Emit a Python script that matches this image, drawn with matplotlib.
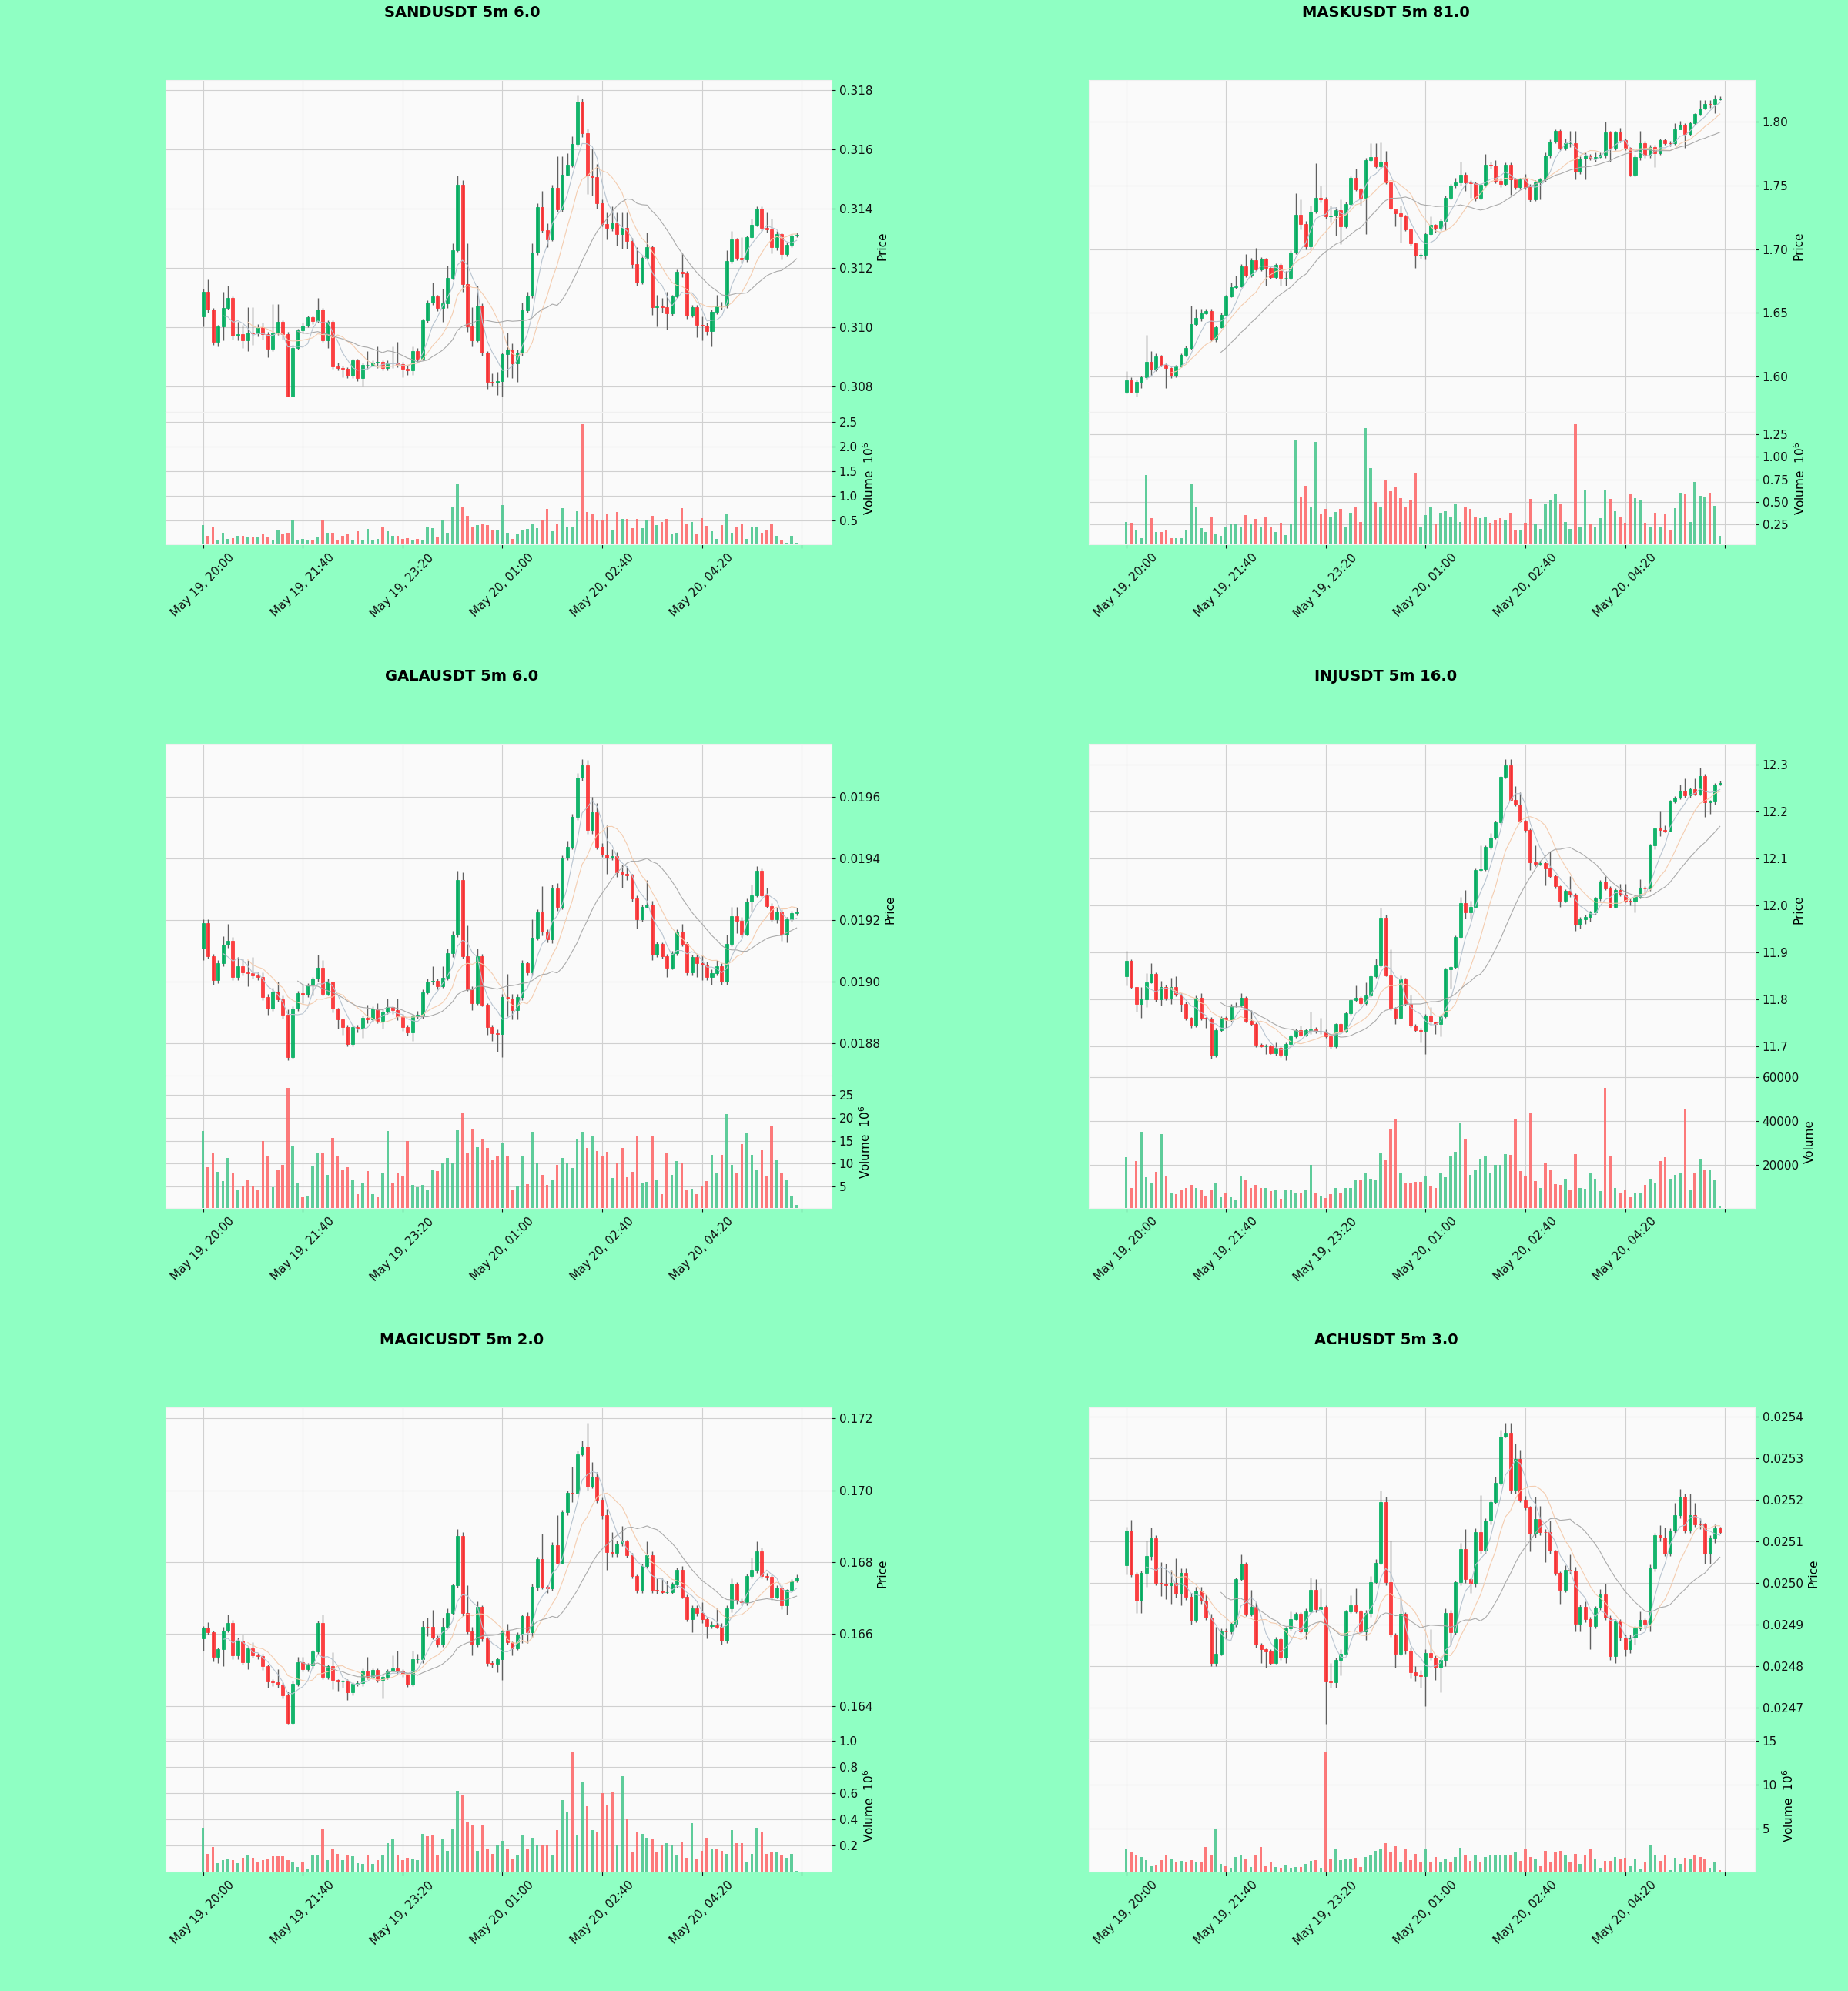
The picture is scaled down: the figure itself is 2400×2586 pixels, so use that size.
import numpy as np
import pandas as pd
import matplotlib
matplotlib.use("Agg")
import matplotlib.pyplot as plt
from matplotlib.ticker import MaxNLocator

# ---------------- data (5m candles, May 19 20:00 -> May 20 05:55) ----------------
sand_open = [
    0.31038, 0.31120, 0.31059, 0.30951, 0.31002, 0.31064, 0.31098, 0.30971, 0.30978, 0.30956,
    0.30982, 0.30980, 0.31000, 0.30977, 0.30927, 0.30982, 0.31018, 0.30977, 0.30766, 0.30930,
    0.30989, 0.31005, 0.31033, 0.31022, 0.31059, 0.30956, 0.31018, 0.30869, 0.30864, 0.30860,
    0.30838, 0.30889, 0.30828, 0.30874, 0.30874, 0.30880, 0.30884, 0.30864, 0.30880, 0.30880,
    0.30875, 0.30860, 0.30855, 0.30920, 0.30894, 0.31023, 0.31084, 0.31105, 0.31064, 0.31081,
    0.31166, 0.31259, 0.31479, 0.31146, 0.31002, 0.30956, 0.31074, 0.30915, 0.30817, 0.30815,
    0.30818, 0.30910, 0.30925, 0.30879, 0.30915, 0.31057, 0.31107, 0.31251, 0.31404, 0.31328,
    0.31295, 0.31469, 0.31397, 0.31515, 0.31548, 0.31618, 0.31761, 0.31654, 0.31510, 0.31505,
    0.31418, 0.31348, 0.31336, 0.31351, 0.31315, 0.31335, 0.31290, 0.31212, 0.31151, 0.31233,
    0.31269, 0.31069, 0.31070, 0.31068, 0.31048, 0.31105, 0.31187, 0.31182, 0.31040, 0.31069,
    0.31007, 0.31005, 0.30987, 0.31053, 0.31074, 0.31072, 0.31223, 0.31295, 0.31233, 0.31228,
    0.31305, 0.31346, 0.31399, 0.31336, 0.31330, 0.31269, 0.31315, 0.31248, 0.31279, 0.31310,
]
sand_high = [
    0.31130, 0.31161, 0.31065, 0.31008, 0.31120, 0.31141, 0.31105, 0.31018, 0.31008, 0.31069,
    0.31069, 0.31010, 0.31015, 0.30985, 0.31079, 0.31079, 0.31025, 0.30985, 0.30940, 0.30995,
    0.31015, 0.31040, 0.31040, 0.31100, 0.31065, 0.31025, 0.31025, 0.30880, 0.30870, 0.30865,
    0.30895, 0.30895, 0.30880, 0.30920, 0.30890, 0.30935, 0.30890, 0.30890, 0.30935, 0.30950,
    0.30885, 0.30870, 0.30935, 0.30930, 0.31030, 0.31090, 0.31151, 0.31110, 0.31130, 0.31207,
    0.31284, 0.31510, 0.31495, 0.31284, 0.31069, 0.31141, 0.31080, 0.30920, 0.30845, 0.30850,
    0.30915, 0.30982, 0.30946, 0.30925, 0.31084, 0.31120, 0.31284, 0.31418, 0.31459, 0.31351,
    0.31479, 0.31577, 0.31577, 0.31587, 0.31643, 0.31782, 0.31770, 0.31669, 0.31602, 0.31551,
    0.31430, 0.31387, 0.31407, 0.31387, 0.31387, 0.31387, 0.31300, 0.31270, 0.31240, 0.31320,
    0.31275, 0.31110, 0.31100, 0.31120, 0.31110, 0.31195, 0.31249, 0.31190, 0.31075, 0.31075,
    0.31038, 0.31015, 0.31060, 0.31110, 0.31085, 0.31259, 0.31325, 0.31300, 0.31305, 0.31310,
    0.31366, 0.31407, 0.31407, 0.31387, 0.31366, 0.31325, 0.31320, 0.31285, 0.31315, 0.31320,
]
sand_low = [
    0.31002, 0.31050, 0.30940, 0.30935, 0.30956, 0.31060, 0.30960, 0.30956, 0.30930, 0.30920,
    0.30940, 0.30970, 0.30960, 0.30900, 0.30920, 0.30975, 0.30960, 0.30766, 0.30766, 0.30925,
    0.30980, 0.31000, 0.31010, 0.31015, 0.30950, 0.30930, 0.30860, 0.30855, 0.30833, 0.30830,
    0.30830, 0.30820, 0.30802, 0.30860, 0.30870, 0.30864, 0.30855, 0.30855, 0.30864, 0.30865,
    0.30833, 0.30840, 0.30840, 0.30885, 0.30890, 0.31015, 0.31075, 0.31055, 0.31018, 0.31065,
    0.31160, 0.31255, 0.31120, 0.30985, 0.30935, 0.30950, 0.30905, 0.30792, 0.30802, 0.30771,
    0.30766, 0.30833, 0.30828, 0.30817, 0.30905, 0.31050, 0.31100, 0.31245, 0.31320, 0.31269,
    0.31290, 0.31390, 0.31390, 0.31510, 0.31540, 0.31610, 0.31640, 0.31448, 0.31443, 0.31400,
    0.31340, 0.31295, 0.31325, 0.31274, 0.31264, 0.31264, 0.31200, 0.31140, 0.31145, 0.31230,
    0.31043, 0.31002, 0.31050, 0.30992, 0.31040, 0.31100, 0.31170, 0.31030, 0.31035, 0.30966,
    0.30956, 0.30975, 0.30935, 0.31045, 0.31060, 0.31065, 0.31215, 0.31225, 0.31215, 0.31220,
    0.31300, 0.31340, 0.31325, 0.31320, 0.31249, 0.31260, 0.31228, 0.31240, 0.31270, 0.31305,
]
sand_close = [
    0.31120, 0.31059, 0.30951, 0.31002, 0.31064, 0.31098, 0.30971, 0.30978, 0.30956, 0.30982,
    0.30980, 0.31000, 0.30977, 0.30927, 0.30982, 0.31018, 0.30977, 0.30766, 0.30930, 0.30989,
    0.31005, 0.31033, 0.31022, 0.31059, 0.30956, 0.31018, 0.30869, 0.30864, 0.30860, 0.30838,
    0.30889, 0.30828, 0.30874, 0.30874, 0.30880, 0.30884, 0.30864, 0.30880, 0.30880, 0.30875,
    0.30860, 0.30855, 0.30920, 0.30894, 0.31023, 0.31084, 0.31105, 0.31064, 0.31081, 0.31166,
    0.31259, 0.31479, 0.31146, 0.31002, 0.30956, 0.31074, 0.30915, 0.30817, 0.30815, 0.30818,
    0.30910, 0.30925, 0.30879, 0.30915, 0.31057, 0.31107, 0.31251, 0.31404, 0.31328, 0.31295,
    0.31469, 0.31397, 0.31515, 0.31548, 0.31618, 0.31761, 0.31654, 0.31510, 0.31505, 0.31418,
    0.31348, 0.31336, 0.31351, 0.31315, 0.31335, 0.31290, 0.31212, 0.31151, 0.31233, 0.31269,
    0.31069, 0.31070, 0.31068, 0.31048, 0.31105, 0.31187, 0.31182, 0.31040, 0.31069, 0.31007,
    0.31005, 0.30987, 0.31053, 0.31074, 0.31072, 0.31223, 0.31295, 0.31233, 0.31228, 0.31305,
    0.31346, 0.31399, 0.31336, 0.31330, 0.31269, 0.31315, 0.31248, 0.31279, 0.31310, 0.31312,
]
sand_vol = [  # millions
    0.40, 0.19, 0.37, 0.09, 0.25, 0.12, 0.14, 0.19, 0.19, 0.17,
    0.16, 0.17, 0.22, 0.17, 0.09, 0.31, 0.22, 0.25, 0.50, 0.09,
    0.12, 0.09, 0.09, 0.16, 0.50, 0.24, 0.25, 0.09, 0.19, 0.23,
    0.09, 0.28, 0.09, 0.33, 0.09, 0.12, 0.35, 0.28, 0.19, 0.19,
    0.12, 0.14, 0.09, 0.12, 0.09, 0.37, 0.34, 0.16, 0.50, 0.25,
    0.78, 1.24, 0.78, 0.59, 0.37, 0.40, 0.43, 0.40, 0.29, 0.29,
    0.81, 0.25, 0.12, 0.22, 0.31, 0.33, 0.43, 0.34, 0.51, 0.73,
    0.28, 0.42, 0.75, 0.37, 0.37, 0.68, 2.45, 0.66, 0.62, 0.50,
    0.50, 0.62, 0.31, 0.66, 0.53, 0.53, 0.34, 0.53, 0.34, 0.50,
    0.59, 0.40, 0.47, 0.53, 0.23, 0.25, 0.75, 0.42, 0.47, 0.22,
    0.54, 0.39, 0.28, 0.12, 0.40, 0.62, 0.25, 0.35, 0.42, 0.12,
    0.35, 0.35, 0.25, 0.31, 0.43, 0.19, 0.11, 0.04, 0.19, 0.05,
]

mask_open = [
    1.5876, 1.5971, 1.5876, 1.5959, 1.5995, 1.6115, 1.6055, 1.6155, 1.6090, 1.6067,
    1.6007, 1.6079, 1.6167, 1.6222, 1.6413, 1.6461, 1.6496, 1.6513, 1.6294, 1.6389,
    1.6484, 1.6628, 1.6699, 1.6705, 1.6866, 1.6795, 1.6914, 1.6838, 1.6926, 1.6854,
    1.6783, 1.6878, 1.6771, 1.6775, 1.6974, 1.7272, 1.7200, 1.7021, 1.7296, 1.7403,
    1.7390, 1.7260, 1.7265, 1.7308, 1.7181, 1.7356, 1.7558, 1.7468, 1.7403, 1.7702,
    1.7721, 1.7654, 1.7690, 1.7523, 1.7320, 1.7284, 1.7260, 1.7153, 1.7045, 1.6950,
    1.6955, 1.7117, 1.7189, 1.7165, 1.7220, 1.7403, 1.7499, 1.7523, 1.7587, 1.7523,
    1.7520, 1.7403, 1.7506, 1.7666, 1.7660, 1.7535, 1.7511, 1.7666, 1.7547, 1.7487,
    1.7547, 1.7487, 1.7391, 1.7523, 1.7547, 1.7737, 1.7845, 1.7928, 1.7797, 1.7833,
    1.7833, 1.7606, 1.7714, 1.7737, 1.7720, 1.7722, 1.7740, 1.7916, 1.7797, 1.7916,
    1.7857, 1.7797, 1.7582, 1.7726, 1.7833, 1.7737, 1.7802, 1.7754, 1.7857, 1.7833,
    1.7830, 1.7940, 1.7976, 1.7905, 1.7988, 1.8060, 1.8107, 1.8143, 1.8140, 1.8179,
]
mask_high = [
    1.6043, 1.5995, 1.5975, 1.6005, 1.6329, 1.6198, 1.6180, 1.6170, 1.6100, 1.6075,
    1.6090, 1.6180, 1.6240, 1.6556, 1.6532, 1.6530, 1.6530, 1.6530, 1.6400, 1.6500,
    1.6640, 1.6735, 1.6795, 1.6880, 1.6962, 1.6930, 1.7009, 1.6940, 1.6930, 1.6860,
    1.6890, 1.6890, 1.6830, 1.6990, 1.7439, 1.7391, 1.7220, 1.7344, 1.7678, 1.7499,
    1.7410, 1.7344, 1.7330, 1.7391, 1.7370, 1.7570, 1.7630, 1.7480, 1.7720, 1.7833,
    1.7833, 1.7840, 1.7770, 1.7530, 1.7300, 1.7344, 1.7270, 1.7160, 1.7050, 1.6970,
    1.7130, 1.7260, 1.7200, 1.7240, 1.7420, 1.7510, 1.7560, 1.7690, 1.7600, 1.7540,
    1.7530, 1.7520, 1.7750, 1.7690, 1.7700, 1.7560, 1.7680, 1.7680, 1.7560, 1.7560,
    1.7590, 1.7510, 1.7540, 1.7560, 1.7760, 1.7860, 1.7940, 1.7940, 1.7870, 1.7930,
    1.7928, 1.7730, 1.7760, 1.7745, 1.7760, 1.7760, 1.8000, 1.7930, 1.7930, 1.7952,
    1.7870, 1.7800, 1.7740, 1.7928, 1.7850, 1.7820, 1.7820, 1.7870, 1.7870, 1.7850,
    1.7988, 1.8010, 1.7990, 1.8000, 1.8070, 1.8174, 1.8174, 1.8174, 1.8210, 1.8200,
]
mask_low = [
    1.5864, 1.5870, 1.5840, 1.5912, 1.5975, 1.6007, 1.6040, 1.6080, 1.5912, 1.5990,
    1.5995, 1.6070, 1.6160, 1.6210, 1.6400, 1.6437, 1.6490, 1.6280, 1.6270, 1.6380,
    1.6480, 1.6620, 1.6690, 1.6700, 1.6780, 1.6780, 1.6830, 1.6830, 1.6711, 1.6770,
    1.6770, 1.6711, 1.6711, 1.6760, 1.6960, 1.7153, 1.7000, 1.7000, 1.7280, 1.7368,
    1.7240, 1.7217, 1.7105, 1.7041, 1.7170, 1.7340, 1.7460, 1.7344, 1.7117, 1.7690,
    1.7640, 1.7640, 1.7510, 1.7310, 1.7177, 1.7053, 1.7140, 1.7030, 1.6854, 1.6926,
    1.6920, 1.7110, 1.7130, 1.7150, 1.7150, 1.7390, 1.7480, 1.7500, 1.7460, 1.7403,
    1.7380, 1.7390, 1.7490, 1.7630, 1.7520, 1.7490, 1.7500, 1.7430, 1.7470, 1.7470,
    1.7470, 1.7370, 1.7380, 1.7390, 1.7530, 1.7720, 1.7830, 1.7780, 1.7780, 1.7800,
    1.7547, 1.7590, 1.7547, 1.7700, 1.7690, 1.7720, 1.7720, 1.7690, 1.7780, 1.7840,
    1.7780, 1.7570, 1.7570, 1.7700, 1.7720, 1.7720, 1.7642, 1.7740, 1.7820, 1.7810,
    1.7820, 1.7960, 1.7797, 1.7890, 1.7980, 1.8050, 1.8100, 1.8110, 1.8070, 1.8170,
]
mask_close = [
    1.5971, 1.5876, 1.5959, 1.5995, 1.6115, 1.6055, 1.6155, 1.6090, 1.6067, 1.6007,
    1.6079, 1.6167, 1.6222, 1.6413, 1.6461, 1.6496, 1.6513, 1.6294, 1.6389, 1.6484,
    1.6628, 1.6699, 1.6705, 1.6866, 1.6795, 1.6914, 1.6838, 1.6926, 1.6854, 1.6783,
    1.6878, 1.6771, 1.6775, 1.6974, 1.7272, 1.7200, 1.7021, 1.7296, 1.7403, 1.7390,
    1.7260, 1.7265, 1.7308, 1.7181, 1.7356, 1.7558, 1.7468, 1.7403, 1.7702, 1.7721,
    1.7654, 1.7690, 1.7523, 1.7320, 1.7284, 1.7260, 1.7153, 1.7045, 1.6950, 1.6955,
    1.7117, 1.7189, 1.7165, 1.7220, 1.7403, 1.7499, 1.7523, 1.7587, 1.7523, 1.7520,
    1.7403, 1.7506, 1.7666, 1.7660, 1.7535, 1.7511, 1.7666, 1.7547, 1.7487, 1.7547,
    1.7487, 1.7391, 1.7523, 1.7547, 1.7737, 1.7845, 1.7928, 1.7797, 1.7833, 1.7833,
    1.7606, 1.7714, 1.7737, 1.7720, 1.7722, 1.7740, 1.7916, 1.7797, 1.7916, 1.7857,
    1.7797, 1.7582, 1.7726, 1.7833, 1.7737, 1.7802, 1.7754, 1.7857, 1.7833, 1.7830,
    1.7940, 1.7976, 1.7905, 1.7988, 1.8060, 1.8107, 1.8143, 1.8140, 1.8179, 1.8182,
]
mask_vol = [  # millions
    0.28, 0.27, 0.18, 0.10, 0.80, 0.32, 0.17, 0.17, 0.19, 0.10,
    0.10, 0.10, 0.18, 0.70, 0.45, 0.21, 0.17, 0.33, 0.15, 0.12,
    0.22, 0.26, 0.26, 0.22, 0.35, 0.26, 0.31, 0.22, 0.33, 0.23,
    0.17, 0.27, 0.13, 0.26, 1.18, 0.55, 0.68, 0.45, 1.16, 0.36,
    0.42, 0.33, 0.39, 0.42, 0.23, 0.38, 0.44, 0.28, 1.32, 0.87,
    0.50, 0.45, 0.74, 0.62, 0.66, 0.54, 0.45, 0.52, 0.82, 0.22,
    0.35, 0.45, 0.26, 0.38, 0.40, 0.33, 0.47, 0.28, 0.44, 0.42,
    0.34, 0.32, 0.34, 0.27, 0.29, 0.32, 0.29, 0.38, 0.18, 0.19,
    0.27, 0.53, 0.26, 0.20, 0.47, 0.52, 0.58, 0.47, 0.28, 0.20,
    1.36, 0.22, 0.63, 0.26, 0.22, 0.32, 0.63, 0.53, 0.40, 0.33,
    0.27, 0.58, 0.54, 0.52, 0.27, 0.23, 0.38, 0.22, 0.37, 0.18,
    0.43, 0.60, 0.58, 0.28, 0.72, 0.57, 0.56, 0.60, 0.46, 0.12,
]

gala_open = [
    0.019108, 0.019189, 0.019083, 0.019004, 0.019061, 0.019120, 0.019133, 0.019014, 0.019049, 0.019029,
    0.019027, 0.019019, 0.019014, 0.018950, 0.018911, 0.018968, 0.018942, 0.018891, 0.018753, 0.018911,
    0.018962, 0.018958, 0.018990, 0.019009, 0.019044, 0.018960, 0.018999, 0.018911, 0.018876, 0.018851,
    0.018797, 0.018851, 0.018847, 0.018881, 0.018876, 0.018913, 0.018871, 0.018903, 0.018916, 0.018906,
    0.018886, 0.018851, 0.018834, 0.018886, 0.018891, 0.018965, 0.018999, 0.019001, 0.018985, 0.019011,
    0.019093, 0.019153, 0.019330, 0.019083, 0.018975, 0.018930, 0.019083, 0.018925, 0.018851, 0.018832,
    0.018828, 0.018950, 0.018945, 0.018906, 0.018950, 0.019059, 0.019029, 0.019143, 0.019224, 0.019162,
    0.019138, 0.019304, 0.019242, 0.019404, 0.019439, 0.019535, 0.019663, 0.019703, 0.019493, 0.019551,
    0.019439, 0.019414, 0.019404, 0.019409, 0.019355, 0.019350, 0.019345, 0.019271, 0.019202, 0.019242,
    0.019251, 0.019088, 0.019123, 0.019083, 0.019044, 0.019093, 0.019162, 0.019123, 0.019029, 0.019079,
    0.019059, 0.019055, 0.019014, 0.019027, 0.019051, 0.018999, 0.019123, 0.019212, 0.019197, 0.019153,
    0.019261, 0.019281, 0.019360, 0.019281, 0.019246, 0.019202, 0.019227, 0.019153, 0.019202, 0.019222,
]
gala_high = [
    0.019202, 0.019202, 0.019090, 0.019070, 0.019148, 0.019187, 0.019145, 0.019079, 0.019075, 0.019069,
    0.019079, 0.019030, 0.019030, 0.018960, 0.018980, 0.018999, 0.018955, 0.018910, 0.018920, 0.018970,
    0.018990, 0.018995, 0.019015, 0.019088, 0.019069, 0.019010, 0.019000, 0.018915, 0.018880, 0.018860,
    0.018860, 0.018860, 0.018890, 0.018925, 0.018920, 0.018930, 0.018910, 0.018945, 0.018920, 0.018945,
    0.018895, 0.018860, 0.018895, 0.018905, 0.018975, 0.019010, 0.019049, 0.019010, 0.019049, 0.019108,
    0.019165, 0.019360, 0.019355, 0.019182, 0.018985, 0.019108, 0.019090, 0.018930, 0.018860, 0.018845,
    0.018960, 0.019024, 0.018960, 0.018960, 0.019070, 0.019065, 0.019202, 0.019235, 0.019311, 0.019170,
    0.019315, 0.019320, 0.019410, 0.019459, 0.019545, 0.019680, 0.019725, 0.019722, 0.019602, 0.019582,
    0.019450, 0.019508, 0.019430, 0.019420, 0.019380, 0.019375, 0.019350, 0.019280, 0.019250, 0.019330,
    0.019262, 0.019130, 0.019128, 0.019090, 0.019100, 0.019170, 0.019187, 0.019130, 0.019088, 0.019088,
    0.019088, 0.019065, 0.019040, 0.019071, 0.019060, 0.019153, 0.019242, 0.019242, 0.019210, 0.019270,
    0.019316, 0.019375, 0.019368, 0.019306, 0.019255, 0.019240, 0.019235, 0.019210, 0.019230, 0.019240,
]
gala_low = [
    0.019069, 0.019075, 0.018990, 0.018995, 0.019050, 0.019110, 0.019005, 0.019004, 0.019020, 0.018985,
    0.019010, 0.019005, 0.018940, 0.018891, 0.018905, 0.018935, 0.018880, 0.018743, 0.018750, 0.018905,
    0.018930, 0.018950, 0.018955, 0.019000, 0.018955, 0.018955, 0.018900, 0.018846, 0.018827, 0.018790,
    0.018790, 0.018835, 0.018817, 0.018865, 0.018870, 0.018865, 0.018846, 0.018895, 0.018895, 0.018875,
    0.018840, 0.018825, 0.018807, 0.018880, 0.018880, 0.018960, 0.018990, 0.018975, 0.018980, 0.019005,
    0.019080, 0.019145, 0.019075, 0.018970, 0.018906, 0.018925, 0.018920, 0.018827, 0.018807, 0.018772,
    0.018753, 0.018886, 0.018876, 0.018876, 0.018940, 0.019020, 0.019020, 0.019135, 0.019150, 0.019128,
    0.019125, 0.019230, 0.019235, 0.019395, 0.019430, 0.019525, 0.019655, 0.019480, 0.019480, 0.019430,
    0.019405, 0.019350, 0.019395, 0.019340, 0.019306, 0.019330, 0.019260, 0.019172, 0.019195, 0.019240,
    0.019069, 0.019080, 0.019075, 0.019014, 0.019040, 0.019085, 0.019115, 0.019020, 0.019020, 0.019014,
    0.019004, 0.019004, 0.018990, 0.019020, 0.018990, 0.018990, 0.019115, 0.019158, 0.019145, 0.019150,
    0.019227, 0.019275, 0.019275, 0.019240, 0.019195, 0.019190, 0.019133, 0.019128, 0.019195, 0.019215,
]
gala_close = [
    0.019189, 0.019083, 0.019004, 0.019061, 0.019120, 0.019133, 0.019014, 0.019049, 0.019029, 0.019027,
    0.019019, 0.019014, 0.018950, 0.018911, 0.018968, 0.018942, 0.018891, 0.018753, 0.018911, 0.018962,
    0.018958, 0.018990, 0.019009, 0.019044, 0.018960, 0.018999, 0.018911, 0.018876, 0.018851, 0.018797,
    0.018851, 0.018847, 0.018881, 0.018876, 0.018913, 0.018871, 0.018903, 0.018916, 0.018906, 0.018886,
    0.018851, 0.018834, 0.018886, 0.018891, 0.018965, 0.018999, 0.019001, 0.018985, 0.019011, 0.019093,
    0.019153, 0.019330, 0.019083, 0.018975, 0.018930, 0.019083, 0.018925, 0.018851, 0.018832, 0.018828,
    0.018950, 0.018945, 0.018906, 0.018950, 0.019059, 0.019029, 0.019143, 0.019224, 0.019162, 0.019138,
    0.019304, 0.019242, 0.019404, 0.019439, 0.019535, 0.019663, 0.019703, 0.019493, 0.019551, 0.019439,
    0.019414, 0.019404, 0.019409, 0.019355, 0.019350, 0.019345, 0.019271, 0.019202, 0.019242, 0.019251,
    0.019088, 0.019123, 0.019083, 0.019044, 0.019093, 0.019162, 0.019123, 0.019029, 0.019079, 0.019059,
    0.019055, 0.019014, 0.019027, 0.019051, 0.018999, 0.019123, 0.019212, 0.019197, 0.019153, 0.019261,
    0.019281, 0.019360, 0.019281, 0.019246, 0.019202, 0.019227, 0.019153, 0.019202, 0.019222, 0.019227,
]
gala_vol = [  # millions
    17.1, 9.2, 12.2, 8.2, 6.2, 11.2, 7.8, 4.3, 5.2, 6.6,
    5.2, 4.1, 15.0, 11.5, 4.8, 8.6, 9.8, 26.6, 14.0, 5.7,
    2.6, 3.0, 9.5, 12.4, 12.4, 7.5, 15.7, 11.8, 8.6, 9.2,
    6.6, 3.3, 5.8, 8.4, 3.3, 2.6, 8.0, 17.2, 5.7, 7.8,
    7.3, 15.0, 5.3, 4.8, 5.3, 4.3, 8.6, 8.4, 10.2, 11.3,
    10.0, 17.3, 21.1, 12.2, 17.5, 13.6, 15.5, 13.5, 10.8, 11.8,
    14.6, 11.5, 4.1, 5.2, 11.8, 5.5, 16.9, 10.2, 7.5, 5.3,
    6.4, 9.8, 11.2, 10.0, 9.0, 15.5, 16.9, 13.5, 16.0, 12.8,
    11.7, 12.6, 6.8, 10.2, 13.5, 7.0, 8.2, 16.2, 5.8, 6.0,
    16.0, 6.5, 3.3, 12.5, 7.5, 10.6, 10.2, 4.1, 4.5, 3.3,
    5.2, 6.2, 12.0, 8.0, 12.0, 20.9, 9.7, 7.8, 14.2, 16.7,
    12.0, 8.8, 13.0, 7.3, 18.2, 10.8, 7.8, 6.6, 3.0, 1.0,
]

inj_open = [
    11.848, 11.882, 11.825, 11.790, 11.799, 11.835, 11.853, 11.799, 11.825, 11.803,
    11.825, 11.809, 11.790, 11.760, 11.744, 11.803, 11.760, 11.758, 11.679, 11.734,
    11.760, 11.756, 11.786, 11.787, 11.803, 11.754, 11.747, 11.702, 11.700, 11.700,
    11.684, 11.696, 11.681, 11.704, 11.721, 11.734, 11.723, 11.734, 11.736, 11.730,
    11.731, 11.721, 11.699, 11.746, 11.731, 11.770, 11.797, 11.803, 11.791, 11.807,
    11.848, 11.871, 11.973, 11.851, 11.780, 11.760, 11.842, 11.790, 11.744, 11.733,
    11.732, 11.765, 11.751, 11.747, 11.764, 11.864, 11.868, 11.933, 12.004, 11.984,
    11.997, 12.075, 12.076, 12.124, 12.144, 12.176, 12.273, 12.299, 12.225, 12.215,
    12.179, 12.160, 12.092, 12.088, 12.089, 12.079, 12.062, 12.040, 12.010, 12.030,
    12.023, 11.958, 11.970, 11.975, 11.984, 12.014, 12.051, 12.036, 11.997, 12.033,
    12.023, 12.010, 12.008, 12.018, 12.036, 12.035, 12.127, 12.163, 12.160, 12.157,
    12.221, 12.229, 12.244, 12.234, 12.247, 12.238, 12.275, 12.220, 12.221, 12.257,
]
inj_high = [
    11.903, 11.885, 11.826, 11.825, 11.855, 11.877, 11.856, 11.838, 11.830, 11.845,
    11.848, 11.812, 11.795, 11.762, 11.808, 11.812, 11.762, 11.762, 11.738, 11.764,
    11.764, 11.790, 11.793, 11.812, 11.806, 11.777, 11.750, 11.705, 11.704, 11.703,
    11.708, 11.700, 11.707, 11.724, 11.737, 11.744, 11.737, 11.773, 11.740, 11.760,
    11.735, 11.724, 11.749, 11.748, 11.773, 11.800, 11.829, 11.806, 11.835, 11.851,
    11.887, 11.994, 11.980, 11.906, 11.783, 11.851, 11.845, 11.809, 11.747, 11.738,
    11.768, 11.783, 11.752, 11.767, 11.866, 11.870, 11.936, 12.017, 12.033, 12.010,
    12.078, 12.127, 12.127, 12.153, 12.180, 12.276, 12.312, 12.312, 12.254, 12.241,
    12.182, 12.163, 12.127, 12.095, 12.093, 12.114, 12.065, 12.043, 12.034, 12.062,
    12.026, 11.975, 11.980, 11.988, 12.017, 12.054, 12.062, 12.040, 12.036, 12.046,
    12.046, 12.015, 12.022, 12.056, 12.040, 12.130, 12.166, 12.199, 12.170, 12.224,
    12.232, 12.257, 12.270, 12.250, 12.270, 12.293, 12.280, 12.225, 12.260, 12.265,
]
inj_low = [
    11.829, 11.822, 11.773, 11.760, 11.783, 11.833, 11.795, 11.786, 11.798, 11.790,
    11.806, 11.773, 11.755, 11.738, 11.741, 11.755, 11.738, 11.673, 11.676, 11.730,
    11.738, 11.752, 11.783, 11.783, 11.750, 11.743, 11.698, 11.697, 11.682, 11.682,
    11.680, 11.676, 11.669, 11.700, 11.718, 11.720, 11.720, 11.725, 11.727, 11.726,
    11.718, 11.695, 11.696, 11.728, 11.728, 11.766, 11.795, 11.788, 11.788, 11.804,
    11.845, 11.868, 11.848, 11.777, 11.746, 11.758, 11.787, 11.740, 11.730, 11.708,
    11.682, 11.745, 11.725, 11.721, 11.760, 11.822, 11.865, 11.930, 11.971, 11.971,
    11.995, 12.072, 12.073, 12.120, 12.140, 12.173, 12.270, 12.222, 12.212, 12.176,
    12.156, 12.075, 12.083, 12.085, 12.043, 12.058, 12.036, 11.997, 12.006, 12.018,
    11.945, 11.950, 11.960, 11.965, 11.980, 12.010, 12.032, 11.994, 11.995, 12.020,
    12.006, 12.000, 11.984, 12.015, 12.023, 12.030, 12.120, 12.147, 12.155, 12.157,
    12.218, 12.226, 12.230, 12.230, 12.235, 12.235, 12.189, 12.195, 12.215, 12.255,
]
inj_close = [
    11.882, 11.825, 11.790, 11.799, 11.835, 11.853, 11.799, 11.825, 11.803, 11.825,
    11.809, 11.790, 11.760, 11.744, 11.803, 11.760, 11.758, 11.679, 11.734, 11.760,
    11.756, 11.786, 11.787, 11.803, 11.754, 11.747, 11.702, 11.700, 11.700, 11.684,
    11.696, 11.681, 11.704, 11.721, 11.734, 11.723, 11.734, 11.736, 11.730, 11.731,
    11.721, 11.699, 11.746, 11.731, 11.770, 11.797, 11.803, 11.791, 11.807, 11.848,
    11.871, 11.973, 11.851, 11.780, 11.760, 11.842, 11.790, 11.744, 11.733, 11.732,
    11.765, 11.751, 11.747, 11.764, 11.864, 11.868, 11.933, 12.004, 11.984, 11.997,
    12.075, 12.076, 12.124, 12.144, 12.176, 12.273, 12.299, 12.225, 12.215, 12.179,
    12.160, 12.092, 12.088, 12.089, 12.079, 12.062, 12.040, 12.010, 12.030, 12.023,
    11.958, 11.970, 11.975, 11.984, 12.014, 12.051, 12.036, 11.997, 12.033, 12.023,
    12.010, 12.008, 12.018, 12.036, 12.035, 12.127, 12.163, 12.160, 12.157, 12.221,
    12.229, 12.244, 12.234, 12.247, 12.238, 12.275, 12.220, 12.221, 12.257, 12.260,
]
inj_vol = [
    23400, 9350, 21700, 35000, 14200, 11400, 16900, 34100, 14850, 7300,
    6600, 8250, 9600, 10700, 9600, 8250, 5900, 8250, 11400, 5200,
    7300, 5200, 3850, 14600, 13200, 9600, 10700, 9350, 9350, 8000,
    8650, 4500, 8650, 8650, 6900, 6900, 8250, 20000, 7300, 5900,
    4950, 6600, 9600, 7300, 9350, 9600, 13200, 12800, 16200, 13500,
    12800, 25600, 22000, 36200, 41000, 16200, 11400, 11400, 12400, 12100,
    15100, 10000, 9350, 16000, 14200, 23800, 26100, 39300, 32000, 15500,
    18000, 22400, 23800, 16200, 20000, 20000, 24750, 24500, 40700, 17300,
    14600, 43700, 12500, 9600, 20800, 17900, 11100, 10700, 13750, 8900,
    24750, 9600, 9100, 16200, 13750, 8000, 55200, 23800, 9600, 7300,
    8250, 5200, 7300, 6900, 11000, 13750, 11400, 21700, 23400, 13500,
    15500, 16200, 45400, 8250, 16200, 22400, 17600, 17600, 12800, 1100,
]

magic_open = [
    0.16588, 0.16618, 0.16604, 0.16537, 0.16557, 0.16610, 0.16631, 0.16540, 0.16582, 0.16521,
    0.16559, 0.16540, 0.16538, 0.16510, 0.16468, 0.16465, 0.16459, 0.16430, 0.16353, 0.16461,
    0.16521, 0.16502, 0.16512, 0.16551, 0.16631, 0.16481, 0.16510, 0.16472, 0.16468, 0.16468,
    0.16438, 0.16461, 0.16464, 0.16498, 0.16481, 0.16500, 0.16472, 0.16481, 0.16498, 0.16504,
    0.16498, 0.16487, 0.16459, 0.16529, 0.16531, 0.16621, 0.16620, 0.16591, 0.16570, 0.16621,
    0.16659, 0.16735, 0.16873, 0.16659, 0.16608, 0.16570, 0.16676, 0.16587, 0.16519, 0.16517,
    0.16529, 0.16608, 0.16578, 0.16561, 0.16599, 0.16650, 0.16604, 0.16731, 0.16809, 0.16731,
    0.16727, 0.16848, 0.16799, 0.16939, 0.16994, 0.16990, 0.17100, 0.17121, 0.17011, 0.17038,
    0.16973, 0.16930, 0.16829, 0.16826, 0.16851, 0.16858, 0.16820, 0.16761, 0.16722, 0.16790,
    0.16820, 0.16722, 0.16720, 0.16716, 0.16716, 0.16738, 0.16778, 0.16704, 0.16642, 0.16672,
    0.16659, 0.16642, 0.16622, 0.16625, 0.16620, 0.16582, 0.16672, 0.16739, 0.16693, 0.16688,
    0.16761, 0.16778, 0.16830, 0.16761, 0.16760, 0.16701, 0.16729, 0.16680, 0.16722, 0.16748,
]
magic_high = [
    0.16622, 0.16633, 0.16610, 0.16562, 0.16620, 0.16655, 0.16640, 0.16590, 0.16599, 0.16565,
    0.16578, 0.16548, 0.16545, 0.16515, 0.16475, 0.16502, 0.16465, 0.16440, 0.16470, 0.16536,
    0.16536, 0.16520, 0.16555, 0.16638, 0.16655, 0.16515, 0.16549, 0.16475, 0.16472, 0.16475,
    0.16465, 0.16470, 0.16505, 0.16536, 0.16505, 0.16505, 0.16490, 0.16502, 0.16540, 0.16553,
    0.16502, 0.16492, 0.16553, 0.16545, 0.16638, 0.16646, 0.16667, 0.16597, 0.16646, 0.16672,
    0.16740, 0.16892, 0.16884, 0.16735, 0.16620, 0.16690, 0.16680, 0.16592, 0.16525, 0.16535,
    0.16612, 0.16629, 0.16580, 0.16605, 0.16655, 0.16660, 0.16740, 0.16815, 0.16879, 0.16735,
    0.16855, 0.16930, 0.16945, 0.17000, 0.17066, 0.17110, 0.17138, 0.17189, 0.17079, 0.17050,
    0.16980, 0.16947, 0.16884, 0.16860, 0.16901, 0.16862, 0.16825, 0.16765, 0.16795, 0.16858,
    0.16830, 0.16756, 0.16756, 0.16748, 0.16745, 0.16785, 0.16790, 0.16710, 0.16680, 0.16680,
    0.16688, 0.16645, 0.16635, 0.16672, 0.16630, 0.16680, 0.16756, 0.16745, 0.16700, 0.16768,
    0.16812, 0.16858, 0.16840, 0.16770, 0.16765, 0.16735, 0.16735, 0.16725, 0.16752, 0.16765,
]
magic_low = [
    0.16554, 0.16598, 0.16523, 0.16520, 0.16510, 0.16605, 0.16530, 0.16530, 0.16515, 0.16502,
    0.16535, 0.16530, 0.16500, 0.16451, 0.16455, 0.16450, 0.16420, 0.16349, 0.16350, 0.16455,
    0.16495, 0.16495, 0.16505, 0.16545, 0.16475, 0.16475, 0.16447, 0.16442, 0.16451, 0.16417,
    0.16430, 0.16455, 0.16455, 0.16475, 0.16475, 0.16465, 0.16421, 0.16475, 0.16495, 0.16490,
    0.16480, 0.16452, 0.16455, 0.16520, 0.16520, 0.16595, 0.16585, 0.16565, 0.16565, 0.16615,
    0.16655, 0.16730, 0.16650, 0.16600, 0.16540, 0.16565, 0.16580, 0.16510, 0.16506, 0.16493,
    0.16472, 0.16570, 0.16540, 0.16555, 0.16574, 0.16574, 0.16590, 0.16720, 0.16725, 0.16714,
    0.16720, 0.16795, 0.16795, 0.16930, 0.16968, 0.16990, 0.17095, 0.17000, 0.17005, 0.16965,
    0.16920, 0.16778, 0.16815, 0.16815, 0.16845, 0.16812, 0.16755, 0.16715, 0.16715, 0.16785,
    0.16714, 0.16712, 0.16712, 0.16712, 0.16712, 0.16730, 0.16700, 0.16635, 0.16604, 0.16650,
    0.16630, 0.16587, 0.16615, 0.16615, 0.16570, 0.16575, 0.16660, 0.16685, 0.16680, 0.16680,
    0.16755, 0.16770, 0.16755, 0.16750, 0.16695, 0.16700, 0.16670, 0.16655, 0.16718, 0.16745,
]
magic_close = [
    0.16618, 0.16604, 0.16537, 0.16557, 0.16610, 0.16631, 0.16540, 0.16582, 0.16521, 0.16559,
    0.16540, 0.16538, 0.16510, 0.16468, 0.16465, 0.16459, 0.16430, 0.16353, 0.16461, 0.16521,
    0.16502, 0.16512, 0.16551, 0.16631, 0.16481, 0.16510, 0.16472, 0.16468, 0.16468, 0.16438,
    0.16461, 0.16464, 0.16498, 0.16481, 0.16500, 0.16472, 0.16481, 0.16498, 0.16504, 0.16498,
    0.16487, 0.16459, 0.16529, 0.16531, 0.16621, 0.16620, 0.16591, 0.16570, 0.16621, 0.16659,
    0.16735, 0.16873, 0.16659, 0.16608, 0.16570, 0.16676, 0.16587, 0.16519, 0.16517, 0.16529,
    0.16608, 0.16578, 0.16561, 0.16599, 0.16650, 0.16604, 0.16731, 0.16809, 0.16731, 0.16727,
    0.16848, 0.16799, 0.16939, 0.16994, 0.16990, 0.17100, 0.17121, 0.17011, 0.17038, 0.16973,
    0.16930, 0.16829, 0.16826, 0.16851, 0.16858, 0.16820, 0.16761, 0.16722, 0.16790, 0.16820,
    0.16722, 0.16720, 0.16716, 0.16716, 0.16738, 0.16778, 0.16704, 0.16642, 0.16672, 0.16659,
    0.16642, 0.16622, 0.16625, 0.16620, 0.16582, 0.16672, 0.16739, 0.16693, 0.16688, 0.16761,
    0.16778, 0.16830, 0.16761, 0.16760, 0.16701, 0.16729, 0.16680, 0.16722, 0.16748, 0.16758,
]
magic_vol = [  # millions
    0.34, 0.14, 0.19, 0.07, 0.09, 0.10, 0.09, 0.07, 0.11, 0.13,
    0.11, 0.08, 0.09, 0.10, 0.12, 0.12, 0.12, 0.09, 0.08, 0.04,
    0.08, 0.02, 0.13, 0.13, 0.33, 0.09, 0.18, 0.14, 0.09, 0.13,
    0.12, 0.07, 0.06, 0.13, 0.06, 0.09, 0.13, 0.22, 0.25, 0.13,
    0.09, 0.11, 0.10, 0.09, 0.29, 0.27, 0.28, 0.13, 0.25, 0.16,
    0.33, 0.62, 0.59, 0.38, 0.36, 0.16, 0.36, 0.18, 0.14, 0.20,
    0.24, 0.18, 0.10, 0.13, 0.28, 0.18, 0.26, 0.20, 0.20, 0.21,
    0.13, 0.32, 0.55, 0.46, 0.92, 0.28, 0.69, 0.50, 0.32, 0.30,
    0.60, 0.51, 0.61, 0.21, 0.73, 0.41, 0.15, 0.30, 0.29, 0.26,
    0.25, 0.15, 0.20, 0.22, 0.20, 0.13, 0.23, 0.11, 0.37, 0.10,
    0.16, 0.26, 0.18, 0.18, 0.16, 0.14, 0.32, 0.22, 0.22, 0.08,
    0.14, 0.34, 0.30, 0.14, 0.15, 0.15, 0.13, 0.11, 0.14, 0.01,
]

ach_open = [
    0.025042, 0.025126, 0.025020, 0.024957, 0.025024, 0.025064, 0.025108, 0.025000, 0.024998, 0.024994,
    0.024999, 0.024974, 0.025024, 0.024967, 0.024911, 0.024982, 0.024957, 0.024917, 0.024808, 0.024829,
    0.024884, 0.024883, 0.024901, 0.025009, 0.025046, 0.024926, 0.024943, 0.024851, 0.024840, 0.024835,
    0.024808, 0.024865, 0.024821, 0.024891, 0.024913, 0.024926, 0.024884, 0.024932, 0.024983, 0.024937,
    0.024943, 0.024762, 0.024760, 0.024815, 0.024829, 0.024932, 0.024946, 0.024932, 0.024884, 0.024928,
    0.025001, 0.025048, 0.025195, 0.025001, 0.024876, 0.024830, 0.024926, 0.024837, 0.024785, 0.024777,
    0.024775, 0.024832, 0.024821, 0.024796, 0.024815, 0.024928, 0.024882, 0.025001, 0.025082, 0.025009,
    0.024998, 0.025123, 0.025077, 0.025149, 0.025195, 0.025240, 0.025352, 0.025362, 0.025224, 0.025299,
    0.025200, 0.025182, 0.025119, 0.025154, 0.025123, 0.025122, 0.025077, 0.025024, 0.024983, 0.025031,
    0.025030, 0.024902, 0.024943, 0.024913, 0.024896, 0.024941, 0.024972, 0.024917, 0.024823, 0.024908,
    0.024869, 0.024840, 0.024869, 0.024891, 0.024910, 0.024899, 0.025035, 0.025115, 0.025110, 0.025071,
    0.025126, 0.025163, 0.025207, 0.025126, 0.025163, 0.025141, 0.025140, 0.025070, 0.025108, 0.025132,
]
ach_high = [
    0.025135, 0.025152, 0.025025, 0.025030, 0.025101, 0.025134, 0.025115, 0.025049, 0.025046, 0.025031,
    0.025060, 0.025035, 0.025035, 0.024975, 0.024990, 0.024990, 0.024972, 0.024925, 0.024895, 0.024890,
    0.024890, 0.024905, 0.025013, 0.025068, 0.025050, 0.024983, 0.024954, 0.024855, 0.024842, 0.024840,
    0.024870, 0.024868, 0.024895, 0.024932, 0.024930, 0.024930, 0.024938, 0.025013, 0.025009, 0.024987,
    0.024946, 0.024807, 0.024820, 0.024840, 0.024935, 0.024970, 0.024987, 0.024935, 0.024935, 0.025016,
    0.025058, 0.025222, 0.025207, 0.025101, 0.024880, 0.024968, 0.024930, 0.024845, 0.024800, 0.024790,
    0.024840, 0.024888, 0.024825, 0.024820, 0.024939, 0.024935, 0.025005, 0.025097, 0.025130, 0.025012,
    0.025132, 0.025211, 0.025155, 0.025200, 0.025255, 0.025369, 0.025386, 0.025386, 0.025336, 0.025321,
    0.025210, 0.025185, 0.025207, 0.025185, 0.025130, 0.025149, 0.025080, 0.025028, 0.025042, 0.025068,
    0.025038, 0.024948, 0.024955, 0.024918, 0.024945, 0.024985, 0.024998, 0.024922, 0.024912, 0.024912,
    0.024875, 0.024875, 0.024897, 0.024932, 0.024915, 0.025045, 0.025120, 0.025138, 0.025134, 0.025132,
    0.025193, 0.025226, 0.025215, 0.025215, 0.025193, 0.025155, 0.025145, 0.025115, 0.025140, 0.025135,
]
ach_low = [
    0.025020, 0.025015, 0.024928, 0.024928, 0.024990, 0.025055, 0.024995, 0.024968, 0.024961, 0.024950,
    0.024965, 0.024946, 0.024960, 0.024899, 0.024905, 0.024950, 0.024910, 0.024799, 0.024800, 0.024825,
    0.024865, 0.024878, 0.024895, 0.025005, 0.024920, 0.024920, 0.024845, 0.024807, 0.024796, 0.024803,
    0.024805, 0.024815, 0.024807, 0.024885, 0.024910, 0.024880, 0.024865, 0.024928, 0.024930, 0.024937,
    0.024660, 0.024748, 0.024748, 0.024777, 0.024825, 0.024928, 0.024928, 0.024880, 0.024862, 0.024918,
    0.024998, 0.025044, 0.024995, 0.024870, 0.024796, 0.024825, 0.024830, 0.024770, 0.024763, 0.024748,
    0.024704, 0.024815, 0.024766, 0.024737, 0.024800, 0.024851, 0.024875, 0.024995, 0.025000, 0.024976,
    0.024990, 0.025070, 0.025070, 0.025140, 0.025190, 0.025235, 0.025350, 0.025215, 0.025215, 0.025195,
    0.025175, 0.025075, 0.025110, 0.025115, 0.025049, 0.025070, 0.025018, 0.024950, 0.024978, 0.025022,
    0.024884, 0.024884, 0.024905, 0.024840, 0.024890, 0.024935, 0.024910, 0.024815, 0.024808, 0.024860,
    0.024823, 0.024832, 0.024851, 0.024885, 0.024890, 0.024884, 0.025028, 0.025100, 0.025064, 0.025064,
    0.025120, 0.025155, 0.025120, 0.025120, 0.025135, 0.025130, 0.025046, 0.025046, 0.025097, 0.025118,
]
ach_close = [
    0.025126, 0.025020, 0.024957, 0.025024, 0.025064, 0.025108, 0.025000, 0.024998, 0.024994, 0.024999,
    0.024974, 0.025024, 0.024967, 0.024911, 0.024982, 0.024957, 0.024917, 0.024808, 0.024829, 0.024884,
    0.024883, 0.024901, 0.025009, 0.025046, 0.024926, 0.024943, 0.024851, 0.024840, 0.024835, 0.024808,
    0.024865, 0.024821, 0.024891, 0.024913, 0.024926, 0.024884, 0.024932, 0.024983, 0.024937, 0.024943,
    0.024762, 0.024760, 0.024815, 0.024829, 0.024932, 0.024946, 0.024932, 0.024884, 0.024928, 0.025001,
    0.025048, 0.025195, 0.025001, 0.024876, 0.024830, 0.024926, 0.024837, 0.024785, 0.024777, 0.024775,
    0.024832, 0.024821, 0.024796, 0.024815, 0.024928, 0.024882, 0.025001, 0.025082, 0.025009, 0.024998,
    0.025123, 0.025077, 0.025149, 0.025195, 0.025240, 0.025352, 0.025362, 0.025224, 0.025299, 0.025200,
    0.025182, 0.025119, 0.025154, 0.025123, 0.025122, 0.025077, 0.025024, 0.024983, 0.025031, 0.025030,
    0.024902, 0.024943, 0.024913, 0.024896, 0.024941, 0.024972, 0.024917, 0.024823, 0.024908, 0.024869,
    0.024840, 0.024869, 0.024891, 0.024910, 0.024899, 0.025035, 0.025115, 0.025110, 0.025071, 0.025126,
    0.025163, 0.025207, 0.025126, 0.025163, 0.025141, 0.025140, 0.025070, 0.025108, 0.025132, 0.025123,
]
ach_vol = [  # millions
    2.6, 2.4, 1.9, 1.8, 1.4, 0.8, 0.9, 1.4, 1.9, 1.5,
    1.2, 1.3, 1.25, 1.4, 1.25, 1.1, 2.9, 1.9, 4.9, 1.0,
    0.8, 0.55, 1.8, 2.05, 1.5, 0.65, 2.0, 2.9, 0.8, 1.25,
    0.65, 0.5, 0.9, 0.55, 0.65, 0.65, 1.0, 1.3, 1.4, 0.55,
    13.8, 1.5, 2.6, 1.4, 1.5, 1.5, 1.7, 0.65, 1.8, 1.9,
    2.5, 2.6, 3.3, 2.3, 3.0, 1.2, 2.7, 1.4, 2.15, 1.1,
    2.6, 1.2, 1.8, 1.2, 1.6, 1.2, 1.8, 2.85, 1.95, 1.35,
    1.95, 1.25, 1.8, 1.95, 1.95, 1.95, 1.95, 2.05, 2.4, 1.35,
    2.75, 1.8, 1.6, 0.8, 2.5, 1.2, 2.3, 2.5, 2.05, 1.2,
    2.15, 1.0, 2.05, 2.6, 1.45, 0.55, 1.35, 1.35, 1.8, 1.45,
    1.7, 0.8, 1.5, 0.4, 1.25, 3.1, 2.05, 1.35, 1.95, 0.3,
    1.7, 1.0, 1.7, 1.5, 1.95, 1.8, 1.6, 0.55, 1.1, 0.3,
]

xtick_labels = ["May 19, 20:00", "May 19, 21:40", "May 19, 23:20",
                "May 20, 01:00", "May 20, 02:40", "May 20, 04:20", ""]
mav_periods = [5, 10, 20]

panels = [
    ("SANDUSDT 5m 6.0", sand_open, sand_high, sand_low, sand_close, sand_vol, "Volume  $10^{6}$"),
    ("MASKUSDT 5m 81.0", mask_open, mask_high, mask_low, mask_close, mask_vol, "Volume  $10^{6}$"),
    ("GALAUSDT 5m 6.0", gala_open, gala_high, gala_low, gala_close, gala_vol, "Volume  $10^{6}$"),
    ("INJUSDT 5m 16.0", inj_open, inj_high, inj_low, inj_close, inj_vol, "Volume"),
    ("MAGICUSDT 5m 2.0", magic_open, magic_high, magic_low, magic_close, magic_vol, "Volume  $10^{6}$"),
    ("ACHUSDT 5m 3.0", ach_open, ach_high, ach_low, ach_close, ach_vol, "Volume  $10^{6}$"),
]

# ---------------- style ----------------
UP_C, DOWN_C = "#00b060", "#fe3032"
WICK_C = "#606060"
VOL_UP, VOL_DOWN = "#4dc790", "#fd6b6c"
MAV_COLORS = ["#b8c4d0", "#f4cdb0", "#aaaaaa"]
FIG_BG = "#8fffc3"
AX_BG = "#fafafa"
GRID_C = "#d0d0d0"

FIG_W, FIG_H = 2400, 2586
col_left = [215, 1414]
row_top = [104, 966, 1828]
AX_W, PRICE_H, VOL_H = 865, 431, 172


def rect(left, top, w, h):
    return [left / FIG_W, 1 - (top + h) / FIG_H, w / FIG_W, h / FIG_H]


def style_axis(a):
    a.set_facecolor(AX_BG)
    for s in a.spines.values():
        s.set_color("#f0f0f0")
    a.grid(True, color=GRID_C, linewidth=0.8)
    a.set_axisbelow(True)
    a.yaxis.tick_right()
    a.yaxis.set_label_position("right")
    a.tick_params(axis="both", labelsize=11, colors="#101010")


fig = plt.figure(figsize=(FIG_W / 100, FIG_H / 100), dpi=100, facecolor=FIG_BG)

for k, (title, o, h, l, c, v, vlabel) in enumerate(panels):
    r, ci = divmod(k, 2)
    left, top = col_left[ci], row_top[r]
    o, h, l, c, v = (np.asarray(a, dtype=float) for a in (o, h, l, c, v))
    x = np.arange(len(c))

    ax = fig.add_axes(rect(left, top, AX_W, PRICE_H))
    axv = fig.add_axes(rect(left, top + PRICE_H, AX_W, VOL_H), sharex=ax)
    style_axis(ax)
    style_axis(axv)

    # candles
    up = c >= o
    body_c = np.where(up, UP_C, DOWN_C)
    ax.vlines(x, l, h, colors=WICK_C, linewidth=1.0, zorder=2)
    ax.bar(x, np.abs(c - o), bottom=np.minimum(o, c), width=0.62,
           color=body_c, edgecolor=body_c, linewidth=0.6, alpha=0.9, zorder=3)

    # moving averages
    for n, mc in zip(mav_periods, MAV_COLORS):
        ax.plot(x, pd.Series(c).rolling(n).mean(), color=mc, linewidth=0.8, zorder=4)

    rng = h.max() - l.min()
    ax.set_ylim(l.min() - 0.05 * rng, h.max() + 0.05 * rng)
    ax.yaxis.set_major_locator(MaxNLocator(nbins=9, steps=[1, 2, 2.5, 5, 10]))
    ax.ticklabel_format(axis="y", useOffset=False, style="plain")
    ax.set_ylabel("Price", fontsize=11)

    # volume, coloured by close vs previous close
    prev_c = np.concatenate([[o[0]], c[:-1]])
    vol_c = np.where(c >= prev_c, VOL_UP, VOL_DOWN)
    axv.bar(x, v, width=0.55, color=vol_c, alpha=0.9, zorder=3)
    axv.set_ylim(0.3 * v.min(), 1.1 * v.max())
    axv.yaxis.set_major_locator(MaxNLocator(nbins=6, steps=[1, 2, 2.5, 5, 10]))
    axv.ticklabel_format(axis="y", useOffset=False, style="plain")
    axv.set_ylabel(vlabel, fontsize=11)

    ax.set_xlim(-7.5, 126)
    axv.set_xticks(range(0, 121, 20))
    axv.set_xticklabels(xtick_labels, rotation=45, ha="center")
    ax.tick_params(axis="x", bottom=False, labelbottom=False)

    fig.text(0.25 + 0.5 * ci, 1 - (top - 88) / FIG_H, title,
             ha="center", va="center", fontsize=14, fontweight="bold")

fig.savefig("out.png", dpi=100, facecolor=fig.get_facecolor())
